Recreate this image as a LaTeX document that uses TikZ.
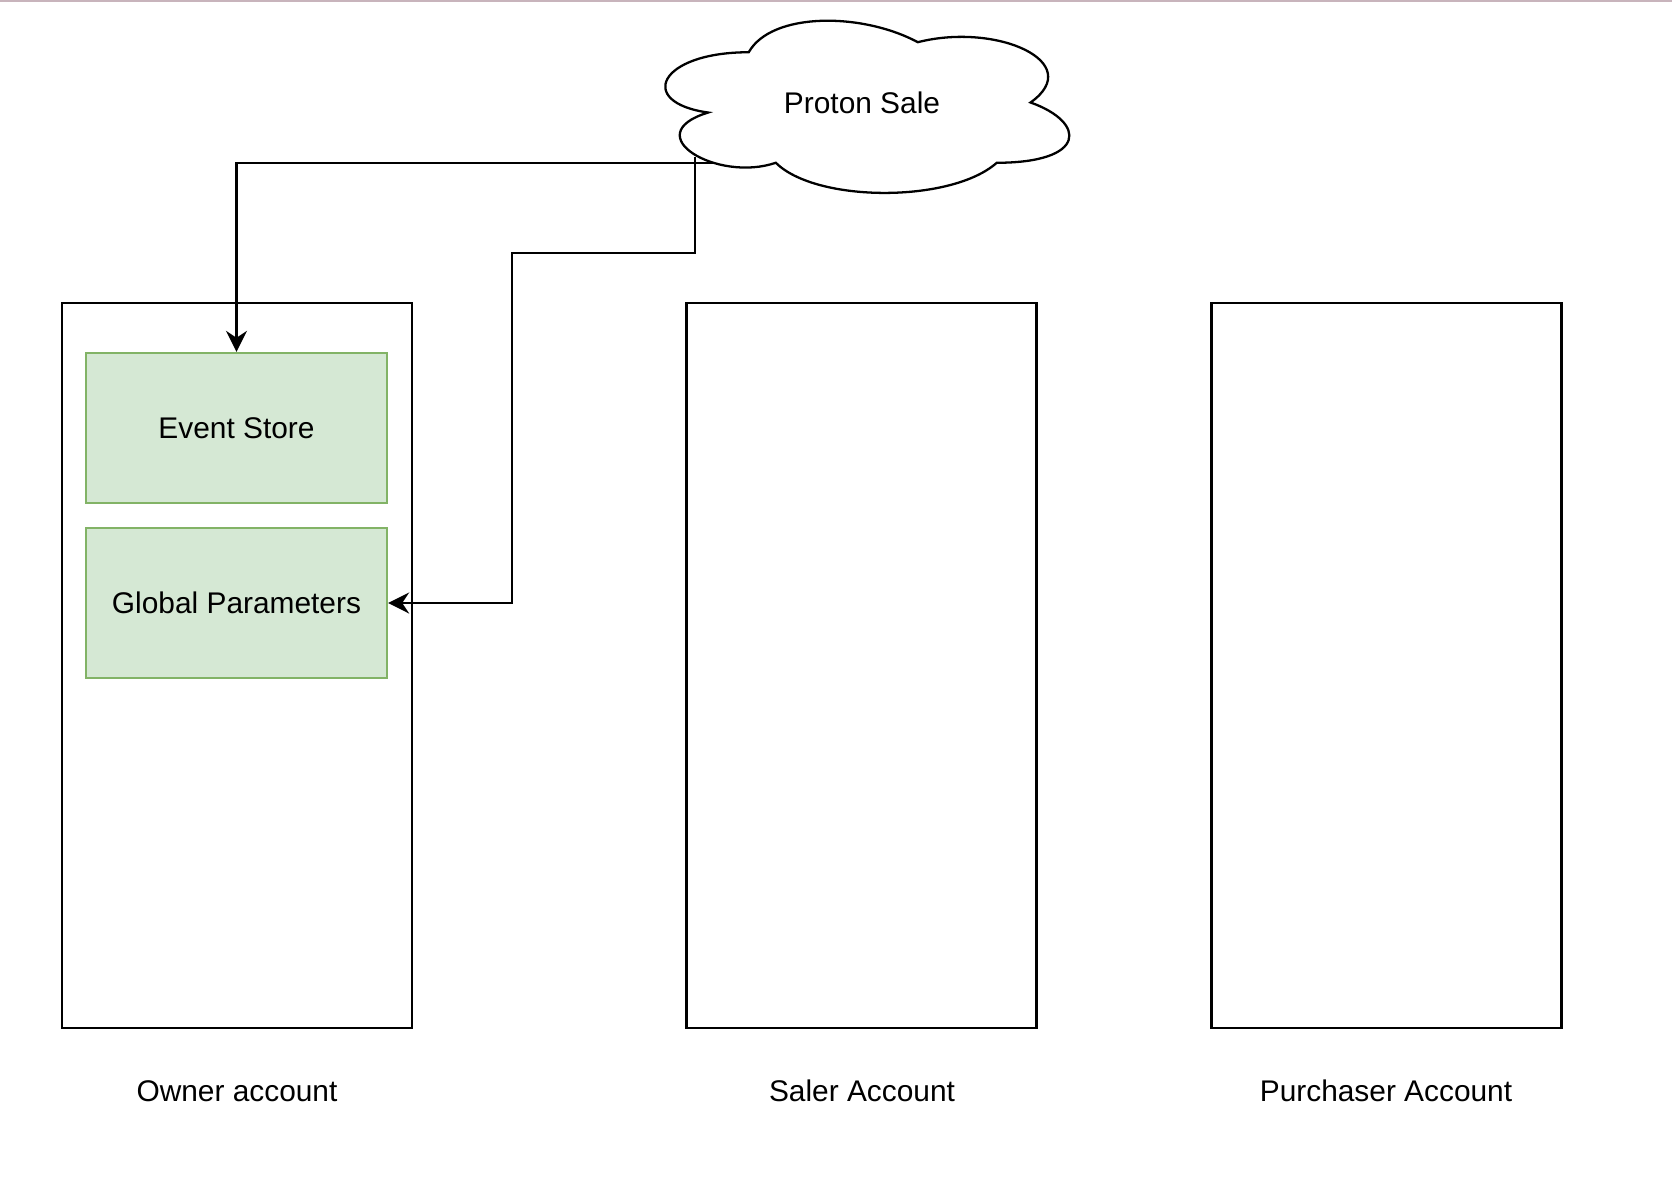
\documentclass[tikz,border=0pt]{standalone}
\usepackage{fontspec}
\setmainfont{Liberation Sans}
\usetikzlibrary{arrows.meta}
\begin{document}
\begin{tikzpicture}[x=0.02cm, y=-0.02cm, font=\fontsize{17}{20}\selectfont,
      line width=1.3pt, >={Stealth[length=12pt, width=12pt, inset=4pt]},
      acct/.style={draw, minimum width=7cm, minimum height=14.5cm, inner sep=0pt},
      store/.style={draw=storeline, fill=storefill, minimum width=6.02cm, minimum height=3cm, inner sep=0pt},
      lbl/.style={inner sep=0pt}]
    \definecolor{storeline}{HTML}{82B366}
    \definecolor{storefill}{HTML}{D5E8D4}
    \definecolor{topline}{RGB}{200,180,188}
    \useasboundingbox (0,0) rectangle (1672,1194);
    \fill[topline] (0,0) rectangle (1672,2);
    % cloud
    \begin{scope}[shift={(636,2)}, x=9.02cm, y=-4.02cm]
      \draw (0.25,0.25) .. controls (0.05,0.25) and (0,0.5) .. (0.16,0.55)
        .. controls (0,0.66) and (0.18,0.9) .. (0.31,0.8)
        .. controls (0.4,1) and (0.7,1) .. (0.8,0.8)
        .. controls (1,0.8) and (1,0.6) .. (0.875,0.5)
        .. controls (1,0.3) and (0.8,0.1) .. (0.625,0.2)
        .. controls (0.5,0.05) and (0.3,0.05) .. (0.25,0.25) -- cycle;
    \end{scope}
    \node[lbl] (sale) at (862,103) {Proton Sale};
    % accounts
    \node[acct] (owner) at (237,665.5) {};
    \node[acct] (saler) at (861.5,665.5) {};
    \node[acct] (buyer) at (1386.5,665.5) {};
    \node[store] (es) at (236.5,428) {Event Store};
    \node[store] (gp) at (236.5,603) {Global Parameters};
    \node[lbl] (ownerlbl) at (237,1091) {Owner account};
    \node[lbl] (salerlbl) at (862,1091) {Saler Account};
    \node[lbl] (buyerlbl) at (1386,1091) {Purchaser Account};
    % connectors
    \coordinate (s1) at (715,163);
    \coordinate (s2) at (695,157);
    \draw[->] (s1) -| (es.north);
    \draw[->] (s2) |- (512,253) |- (gp.east);
  \end{tikzpicture}
\end{document}
